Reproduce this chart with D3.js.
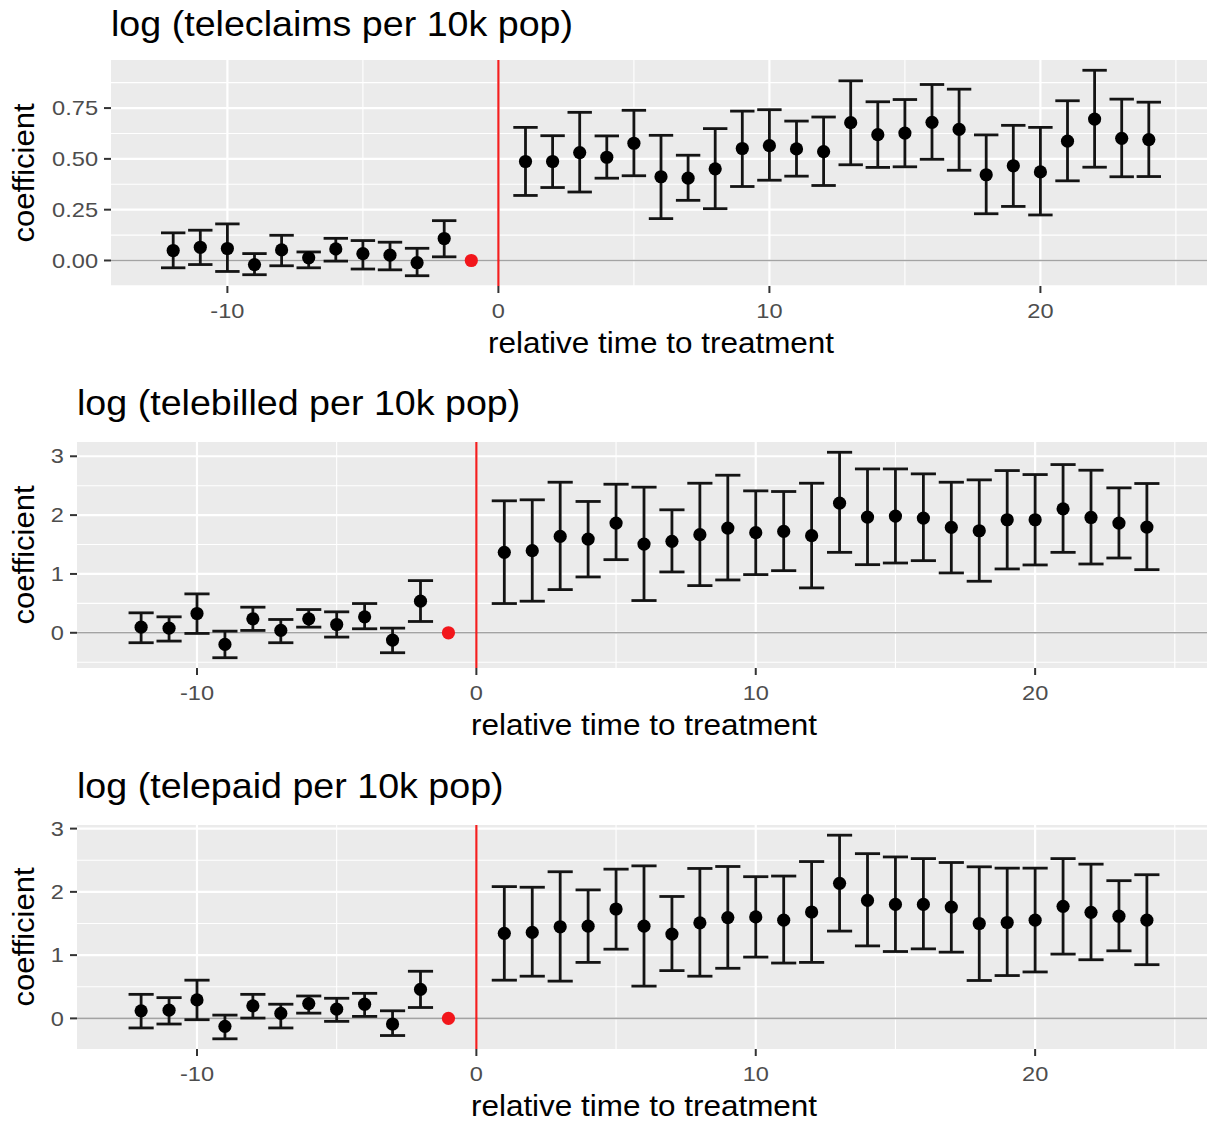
<!DOCTYPE html>
<html><head><meta charset="utf-8">
<script src="https://cdn.jsdelivr.net/npm/d3@7"></script>
<style>body{margin:0;background:#fff}svg{display:block}</style>
</head><body>
<script>
// ---- data ----
const times = [-12,-11,-10,-9,-8,-7,-6,-5,-4,-3,-2,-1,1,2,3,4,5,6,7,8,9,10,11,12,13,14,15,16,17,18,19,20,21,22,23,24];
const refTime = -1;
const xTicks = [-10, 0, 10, 20];
const xMinor = [-15, -5, 5, 15, 25];

const titles = ["log (teleclaims per 10k pop)", "log (telebilled per 10k pop)", "log (telepaid per 10k pop)"];
const xLabel = "relative time to treatment";
const yLabel = "coefficient";

const claimsEst = [0.049,0.065,0.059,-0.020,0.052,0.013,0.057,0.034,0.026,-0.011,0.108,0,
  0.487,0.487,0.531,0.508,0.577,0.412,0.405,0.451,0.551,0.565,0.549,0.536,0.678,0.619,0.627,0.680,0.645,0.422,0.466,0.436,0.587,0.696,0.601,0.595];
const claimsLow = [-0.036,-0.020,-0.054,-0.070,-0.026,-0.036,-0.003,-0.042,-0.046,-0.075,0.018,null,
  0.320,0.359,0.337,0.405,0.417,0.206,0.296,0.255,0.364,0.395,0.415,0.369,0.471,0.458,0.461,0.498,0.444,0.230,0.266,0.224,0.392,0.459,0.412,0.413];
const claimsHigh = [0.136,0.149,0.180,0.034,0.124,0.042,0.109,0.098,0.090,0.060,0.196,null,
  0.655,0.614,0.729,0.613,0.739,0.616,0.518,0.649,0.735,0.742,0.686,0.706,0.884,0.781,0.792,0.866,0.843,0.618,0.665,0.655,0.786,0.936,0.794,0.779];

const billedEst = [0.096,0.079,0.328,-0.198,0.237,0.040,0.237,0.141,0.271,-0.124,0.537,0,
  1.367,1.395,1.638,1.593,1.864,1.508,1.554,1.667,1.780,1.701,1.723,1.650,2.203,1.966,1.983,1.949,1.791,1.734,1.921,1.921,2.107,1.960,1.864,1.797];
const billedLow = [-0.169,-0.141,-0.011,-0.424,0.040,-0.169,0.096,-0.073,0.068,-0.339,0.192,null,
  0.497,0.537,0.734,0.949,1.243,0.548,1.034,0.802,0.898,0.989,1.056,0.763,1.367,1.158,1.186,1.226,1.017,0.876,1.085,1.153,1.367,1.169,1.271,1.073];
const billedHigh = [0.339,0.271,0.661,0.028,0.435,0.226,0.395,0.356,0.497,0.079,0.887,null,
  2.243,2.260,2.559,2.232,2.525,2.475,2.090,2.542,2.678,2.412,2.401,2.542,3.068,2.785,2.785,2.701,2.559,2.599,2.757,2.689,2.859,2.763,2.463,2.537];

const paidEst = [0.120,0.130,0.292,-0.125,0.198,0.078,0.234,0.146,0.224,-0.089,0.458,0,
  1.344,1.359,1.448,1.458,1.729,1.458,1.333,1.510,1.594,1.604,1.552,1.682,2.135,1.865,1.802,1.802,1.760,1.500,1.516,1.552,1.771,1.677,1.615,1.552];
const paidLow = [-0.151,-0.089,-0.021,-0.323,0.005,-0.151,0.083,-0.047,0.031,-0.271,0.172,null,
  0.604,0.667,0.589,0.885,1.094,0.510,0.755,0.667,0.792,0.969,0.875,0.885,1.380,1.146,1.057,1.099,1.047,0.599,0.677,0.734,1.016,0.927,1.068,0.849];
const paidHigh = [0.380,0.328,0.604,0.052,0.380,0.224,0.354,0.318,0.396,0.120,0.745,null,
  2.083,2.073,2.318,2.031,2.359,2.411,1.927,2.370,2.401,2.240,2.250,2.479,2.896,2.604,2.552,2.526,2.464,2.396,2.375,2.375,2.526,2.438,2.177,2.271];

const claimsTicks = [0, 0.25, 0.5, 0.75];
const claimsTickLabels = ["0.00", "0.25", "0.50", "0.75"];
const countTicks = [0, 1, 2, 3];
const countTickLabels = ["0", "1", "2", "3"];

// ---- layout ----
const W = 1207, H = 1124;
const panels = [
  {title: titles[0], est: claimsEst, lo: claimsLow, hi: claimsHigh, ticks: claimsTicks, labels: claimsTickLabels,
   left: 111, top: 60, bottom: 286, titleY: 36},
  {title: titles[1], est: billedEst, lo: billedLow, hi: billedHigh, ticks: countTicks, labels: countTickLabels,
   left: 77, top: 442, bottom: 668, titleY: 415},
  {title: titles[2], est: paidEst, lo: paidLow, hi: paidHigh, ticks: countTicks, labels: countTickLabels,
   left: 77, top: 825, bottom: 1049, titleY: 798}
];
const plotRight = 1211;
const capW = 0.9;
const FONT = "'Liberation Sans', Arial, Helvetica, sans-serif";

const svg = d3.select("body").append("svg").attr("width", W).attr("height", H)
  .style("font-family", FONT);

function expand(lo, hi, f) { const r = hi - lo; return [lo - r * f, hi + r * f]; }
const xDom = expand(d3.min(times) - capW / 2, d3.max(times) + capW / 2, 0.05);

// text with horizontal stretch (reference glyphs are slightly wider)
function stretchedText(sel, x, y, sx, rot) {
  return sel.append("text")
    .attr("transform", `translate(${x},${y})${rot ? ` rotate(${rot})` : ""} scale(${sx},1)`);
}

panels.forEach(p => {
  const rows = times.map((t, i) => ({t, est: p.est[i], lo: p.lo[i], hi: p.hi[i]}));
  const allVals = rows.flatMap(r => [r.est, r.lo, r.hi]).filter(v => v != null);
  const yDom = expand(d3.min(allVals), d3.max(allVals), 0.05);
  const x = d3.scaleLinear().domain(xDom).range([p.left, plotRight]);
  const y = d3.scaleLinear().domain(yDom).range([p.bottom, p.top]);
  const g = svg.append("g");

  g.append("rect").attr("x", p.left).attr("y", p.top)
    .attr("width", plotRight - p.left).attr("height", p.bottom - p.top).attr("fill", "#EBEBEB");

  const step = p.ticks[1] - p.ticks[0];
  const yMinor = d3.range(p.ticks.length + 1).map(i => p.ticks[0] - step / 2 + i * step)
    .filter(v => v > yDom[0] && v < yDom[1]);
  g.selectAll(".ymn").data(yMinor).join("line")
    .attr("x1", p.left).attr("x2", plotRight).attr("y1", d => y(d)).attr("y2", d => y(d))
    .attr("stroke", "#fff").attr("stroke-width", 1.1);
  g.selectAll(".xmn").data(xMinor.filter(v => v > xDom[0] && v < xDom[1])).join("line")
    .attr("x1", d => x(d)).attr("x2", d => x(d)).attr("y1", p.top).attr("y2", p.bottom)
    .attr("stroke", "#fff").attr("stroke-width", 1.1);
  g.selectAll(".ymj").data(p.ticks).join("line")
    .attr("x1", p.left).attr("x2", plotRight).attr("y1", d => y(d)).attr("y2", d => y(d))
    .attr("stroke", "#fff").attr("stroke-width", 2.2);
  g.selectAll(".xmj").data(xTicks).join("line")
    .attr("x1", d => x(d)).attr("x2", d => x(d)).attr("y1", p.top).attr("y2", p.bottom)
    .attr("stroke", "#fff").attr("stroke-width", 2.2);

  g.append("line").attr("x1", p.left).attr("x2", plotRight).attr("y1", y(0)).attr("y2", y(0))
    .attr("stroke", "#A3A3A3").attr("stroke-width", 1.6);
  g.append("line").attr("x1", x(0)).attr("x2", x(0)).attr("y1", p.top).attr("y2", p.bottom)
    .attr("stroke", "#F21F1F").attr("stroke-width", 2.2);

  const eb = rows.filter(r => r.lo != null && r.hi != null);
  const ebG = g.append("g").attr("stroke", "#141414").attr("stroke-width", 2.8).attr("fill", "none");
  ebG.selectAll(".v").data(eb).join("line")
    .attr("x1", d => x(d.t)).attr("x2", d => x(d.t)).attr("y1", d => y(d.lo)).attr("y2", d => y(d.hi));
  ebG.selectAll(".ct").data(eb).join("line")
    .attr("x1", d => x(d.t - capW / 2)).attr("x2", d => x(d.t + capW / 2)).attr("y1", d => y(d.hi)).attr("y2", d => y(d.hi));
  ebG.selectAll(".cb").data(eb).join("line")
    .attr("x1", d => x(d.t - capW / 2)).attr("x2", d => x(d.t + capW / 2)).attr("y1", d => y(d.lo)).attr("y2", d => y(d.lo));

  g.selectAll(".pt").data(rows).join("circle")
    .attr("cx", d => x(d.t)).attr("cy", d => y(d.est)).attr("r", 6.6)
    .attr("fill", d => d.t === refTime ? "#F2161B" : "#000");

  // y axis
  g.selectAll(".yt").data(p.ticks).join("line")
    .attr("x1", p.left - 7).attr("x2", p.left).attr("y1", d => y(d)).attr("y2", d => y(d))
    .attr("stroke", "#333").attr("stroke-width", 2);
  p.ticks.forEach((d, i) => {
    stretchedText(g, p.left - 13, y(d), 1.18).attr("dy", "0.36em")
      .attr("text-anchor", "end").attr("font-size", 20).attr("fill", "#4D4D4D").text(p.labels[i]);
  });

  // x axis
  g.selectAll(".xt").data(xTicks).join("line")
    .attr("x1", d => x(d)).attr("x2", d => x(d)).attr("y1", p.bottom).attr("y2", p.bottom + 7)
    .attr("stroke", "#333").attr("stroke-width", 2);
  xTicks.forEach(d => {
    stretchedText(g, x(d), p.bottom + 32, 1.18)
      .attr("text-anchor", "middle").attr("font-size", 20).attr("fill", "#4D4D4D").text(d);
  });

  // axis titles
  stretchedText(g, (p.left + plotRight) / 2, p.bottom + 67, 1.085)
    .attr("text-anchor", "middle").attr("font-size", 29).attr("fill", "#000").text(xLabel);
  stretchedText(g, 34, (p.top + p.bottom) / 2, 1.07, -90)
    .attr("text-anchor", "middle").attr("font-size", 29).attr("fill", "#000").text(yLabel);

  // title
  stretchedText(g, p.left, p.titleY, 1.075)
    .attr("font-size", 35).attr("fill", "#000").text(p.title);
});
</script>
</body></html>
